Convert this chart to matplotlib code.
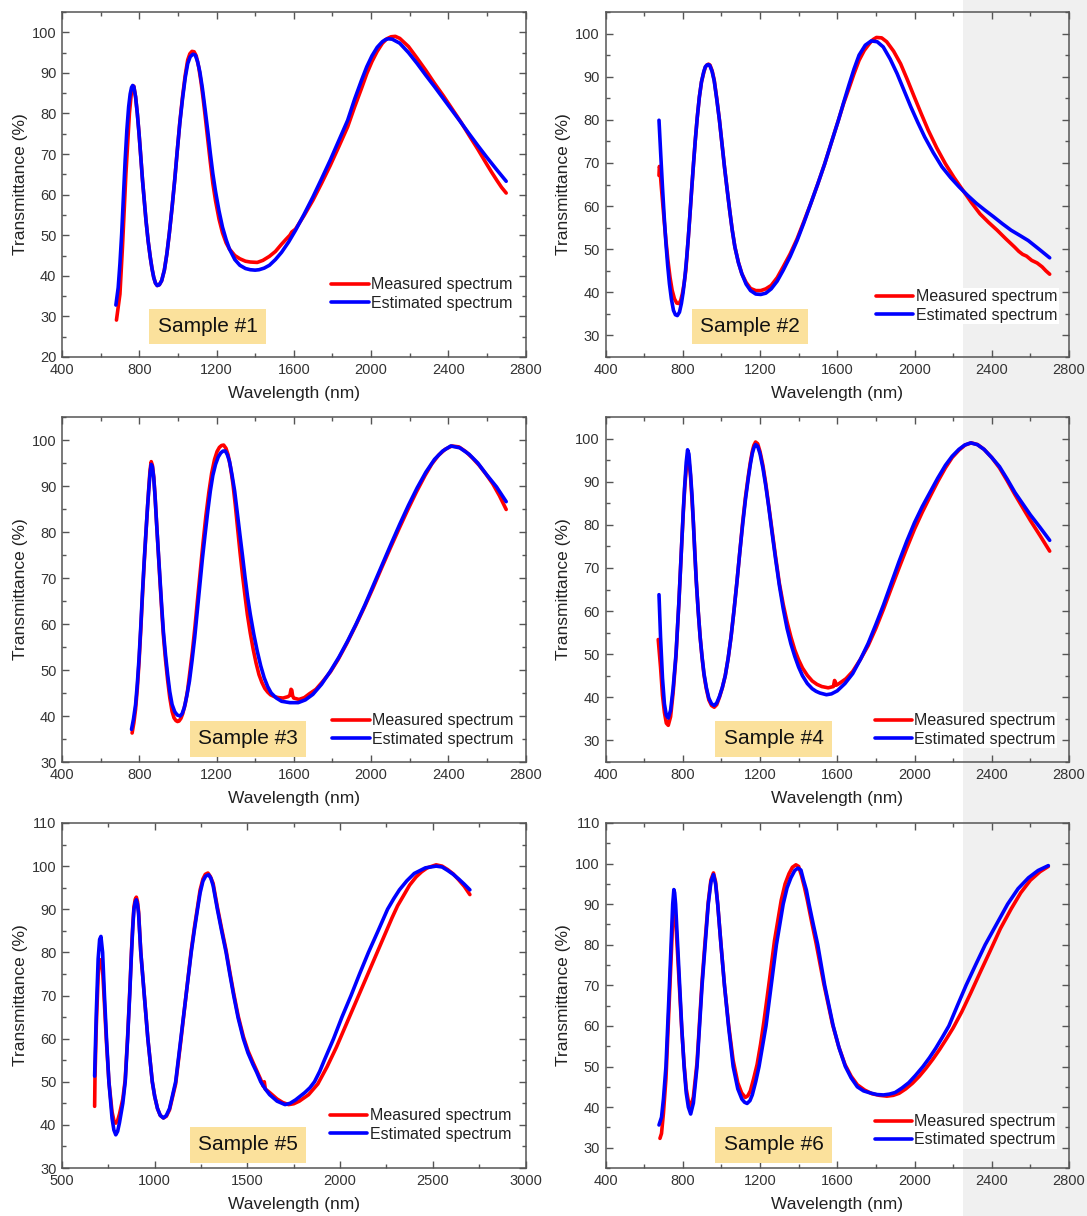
import matplotlib
matplotlib.use('Agg')
import matplotlib.pyplot as plt
from matplotlib.patches import Rectangle
from matplotlib.ticker import MultipleLocator

plt.rcParams['font.family'] = ['Liberation Sans', 'DejaVu Sans']

# ---- data: (wavelength nm, transmittance %) ----
meas1 = [(682, 29.1), (700, 35.5), (713, 47.0), (731, 65.2), (749, 80.0), (758, 84.5), (763, 86.2), (768, 86.8),
         (772, 86.7), (781, 84.1), (790, 80.0), (799, 75.0), (808, 69.3), (817, 63.5), (835, 53.6), (846, 48.6),
         (857, 44.6), (866, 41.8), (875, 39.6), (884, 38.2), (893, 37.6), (904, 37.8), (916, 38.8), (930, 41.4),
         (943, 45.4), (956, 50.6), (970, 56.9), (984, 63.8), (997, 70.9), (1010, 77.8), (1024, 84.1), (1038, 89.4),
         (1051, 93.2), (1062, 94.7), (1073, 95.3), (1084, 95.2), (1095, 94.2), (1108, 91.4), (1120, 87.7),
         (1130, 84.0), (1141, 79.5), (1155, 73.5), (1168, 68.0), (1181, 62.8), (1195, 58.5), (1213, 54.0),
         (1231, 50.6), (1250, 48.1), (1267, 46.6), (1295, 45.0), (1321, 44.2), (1350, 43.6), (1375, 43.4),
         (1411, 43.3), (1440, 43.8), (1474, 44.8), (1505, 46.0), (1537, 47.8), (1560, 49.0), (1580, 50.0),
         (1590, 50.8), (1609, 51.5), (1654, 54.9), (1699, 58.6), (1744, 62.8), (1789, 67.2), (1834, 71.9),
         (1879, 76.7), (1915, 81.6), (1951, 86.2), (1978, 89.8), (2005, 92.8), (2032, 95.3), (2059, 97.3),
         (2082, 98.4), (2104, 98.9), (2126, 99.0), (2149, 98.5), (2194, 96.5), (2239, 93.6), (2284, 90.6),
         (2329, 87.4), (2374, 84.4), (2419, 81.2), (2464, 78.0), (2508, 74.6), (2553, 71.2), (2598, 67.6),
         (2625, 65.5), (2652, 63.5), (2676, 61.8), (2700, 60.4)]
est1 = [(679, 32.8), (691, 37.1), (700, 43.0), (709, 50.3), (718, 59.5), (727, 68.5), (736, 76.0), (745, 81.6),
        (753, 84.8), (760, 86.4), (766, 86.9), (772, 86.6), (781, 84.1), (790, 80.0), (799, 75.0), (808, 69.3),
        (817, 63.5), (835, 53.6), (846, 48.6), (857, 44.6), (866, 41.8), (875, 39.6), (884, 38.2), (893, 37.6),
        (904, 37.8), (916, 38.8), (930, 41.4), (943, 45.4), (956, 50.6), (970, 56.9), (984, 63.8), (997, 70.9),
        (1010, 77.6), (1024, 83.6), (1038, 88.8), (1051, 92.3), (1064, 94.0), (1078, 94.6), (1090, 94.4),
        (1102, 92.8), (1114, 90.2), (1127, 86.2), (1141, 81.0), (1155, 75.6), (1168, 70.2), (1181, 65.2),
        (1195, 60.8), (1213, 56.0), (1231, 52.0), (1250, 48.9), (1267, 46.6), (1295, 44.0), (1321, 42.6),
        (1350, 41.8), (1375, 41.5), (1400, 41.4), (1420, 41.5), (1447, 41.9), (1474, 42.6), (1505, 44.0),
        (1537, 45.8), (1573, 48.3), (1609, 51.2), (1654, 55.2), (1699, 59.4), (1744, 63.9), (1789, 68.5),
        (1834, 73.4), (1879, 78.3), (1915, 83.5), (1951, 88.2), (1978, 91.5), (2005, 94.2), (2032, 96.3),
        (2059, 97.7), (2075, 98.2), (2090, 98.4), (2110, 98.3), (2149, 97.3), (2194, 95.0), (2239, 92.3),
        (2284, 89.4), (2329, 86.6), (2374, 83.7), (2419, 80.8), (2464, 77.9), (2508, 75.0), (2553, 72.1),
        (2598, 69.3), (2650, 66.2), (2700, 63.3)]

meas2 = [(677, 67.1), (679, 69.2), (682, 68.7), (688, 65.0), (695, 61.3), (704, 56.5), (713, 52.0), (723, 47.5),
         (734, 43.5), (745, 40.5), (757, 38.5), (769, 37.5), (781, 37.4), (790, 38.2), (798, 39.7), (807, 42.0),
         (816, 45.1), (829, 52.8), (838, 58.5), (847, 64.4), (856, 70.0), (865, 75.3), (875, 80.5), (886, 85.3),
         (897, 88.8), (909, 91.0), (917, 92.2), (925, 92.7), (933, 92.9), (941, 92.7), (952, 91.4), (963, 89.2),
         (976, 85.0), (990, 79.9), (1003, 74.5), (1016, 69.1), (1030, 63.8), (1043, 59.0), (1056, 54.5),
         (1070, 50.5), (1088, 47.0), (1106, 44.3), (1128, 42.3), (1151, 40.9), (1178, 40.4), (1204, 40.4),
         (1230, 40.8), (1258, 41.6), (1289, 43.4), (1320, 45.9), (1356, 48.9), (1392, 52.4), (1427, 56.4),
         (1463, 60.6), (1499, 65.1), (1535, 69.8), (1570, 74.8), (1606, 79.9), (1633, 83.8), (1660, 87.2),
         (1687, 90.7), (1713, 93.8), (1740, 96.1), (1767, 97.7), (1785, 98.6), (1803, 99.1), (1830, 99.0),
         (1856, 98.1), (1892, 95.9), (1928, 93.0), (1963, 89.3), (1999, 85.3), (2035, 81.4), (2071, 77.6),
         (2115, 73.5), (2160, 69.8), (2205, 66.6), (2250, 63.7), (2295, 60.8), (2339, 58.2), (2384, 56.2),
         (2428, 54.4), (2473, 52.4), (2518, 50.5), (2540, 49.5), (2560, 48.8), (2580, 48.4), (2607, 47.4),
         (2635, 46.8), (2661, 45.9), (2680, 45.0), (2700, 44.2)]
est2 = [(677, 79.9), (686, 72.0), (695, 64.4), (704, 57.5), (713, 51.3), (722, 46.2), (731, 42.0), (741, 38.5),
        (752, 35.8), (762, 34.8), (772, 34.6), (783, 35.4), (793, 37.4), (802, 40.0), (811, 43.5), (820, 47.8),
        (829, 52.8), (838, 58.5), (847, 64.4), (856, 70.0), (865, 75.3), (875, 80.5), (886, 85.3), (897, 88.8),
        (909, 91.2), (917, 92.3), (925, 92.7), (933, 92.8), (940, 92.6), (952, 91.2), (963, 89.0), (976, 84.8),
        (990, 79.9), (1003, 74.5), (1016, 69.1), (1030, 63.8), (1043, 59.0), (1056, 54.5), (1070, 50.5),
        (1088, 46.9), (1106, 44.3), (1128, 41.9), (1151, 40.4), (1178, 39.6), (1204, 39.5), (1230, 39.8),
        (1258, 40.8), (1289, 42.6), (1320, 45.1), (1356, 48.3), (1392, 52.0), (1427, 56.1), (1463, 60.6),
        (1499, 65.1), (1535, 69.8), (1570, 74.8), (1606, 79.9), (1633, 84.0), (1660, 88.0), (1687, 91.8),
        (1713, 95.0), (1745, 97.3), (1776, 98.3), (1807, 98.1), (1838, 96.9), (1874, 94.1), (1910, 90.7),
        (1945, 86.9), (1981, 83.0), (2017, 79.4), (2053, 76.0), (2097, 72.4), (2142, 69.1), (2187, 66.6),
        (2232, 64.4), (2277, 62.4), (2321, 60.6), (2366, 59.0), (2410, 57.5), (2455, 55.9), (2500, 54.4),
        (2545, 53.2), (2589, 52.0), (2645, 50.0), (2700, 48.0)]

meas3 = [(763, 36.3), (772, 38.5), (781, 41.5), (790, 46.0), (799, 51.8), (808, 58.8), (817, 66.5), (826, 73.5),
         (835, 80.0), (843, 85.5), (850, 90.0), (856, 93.5), (862, 95.3), (868, 94.5), (875, 92.0), (882, 87.8),
         (889, 82.5), (898, 76.0), (907, 69.5), (916, 63.3), (925, 57.5), (936, 52.2), (947, 47.8), (958, 44.0),
         (970, 41.0), (980, 39.6), (990, 39.0), (998, 38.8), (1006, 38.9), (1016, 39.5), (1025, 40.5),
         (1038, 42.6), (1050, 45.5), (1062, 49.5), (1075, 54.0), (1088, 59.2), (1100, 64.5), (1115, 71.0),
         (1130, 77.5), (1145, 83.5), (1160, 88.5), (1175, 92.8), (1190, 95.8), (1203, 97.5), (1215, 98.4),
         (1226, 98.8), (1237, 98.9), (1249, 98.2), (1260, 96.8), (1272, 94.2), (1285, 90.5), (1297, 86.0),
         (1310, 80.5), (1322, 75.5), (1335, 70.5), (1348, 66.0), (1360, 62.0), (1375, 58.0), (1390, 54.5),
         (1405, 51.5), (1420, 49.0), (1435, 47.3), (1450, 46.0), (1465, 45.2), (1480, 44.6), (1500, 44.2),
         (1520, 44.0), (1545, 43.9), (1570, 44.2), (1580, 44.5), (1586, 45.8), (1590, 45.6), (1594, 44.4),
         (1600, 43.9), (1627, 43.6), (1655, 44.0), (1680, 44.8), (1715, 45.8), (1750, 47.5), (1790, 49.6),
         (1830, 52.3), (1875, 55.8), (1920, 59.6), (1965, 63.6), (2010, 67.8), (2055, 72.2), (2100, 76.5),
         (2145, 80.7), (2190, 84.8), (2235, 88.7), (2280, 92.3), (2315, 94.8), (2350, 96.7), (2385, 98.0),
         (2419, 98.7), (2455, 98.5), (2490, 97.5), (2525, 96.1), (2560, 94.5), (2595, 92.6), (2630, 90.5),
         (2665, 87.9), (2700, 84.9)]
est3 = [(760, 37.1), (770, 39.3), (781, 42.5), (790, 47.0), (799, 52.6), (808, 59.5), (817, 67.1), (826, 74.0),
        (835, 80.2), (843, 85.5), (850, 89.6), (856, 92.8), (862, 94.7), (868, 94.2), (875, 91.8), (882, 87.6),
        (889, 82.4), (898, 76.2), (907, 70.1), (916, 64.0), (925, 58.4), (936, 53.3), (947, 49.0), (958, 45.3),
        (970, 42.5), (984, 40.9), (997, 40.2), (1012, 40.0), (1022, 40.5), (1033, 41.8), (1046, 44.3),
        (1060, 47.6), (1073, 51.9), (1087, 57.0), (1100, 62.6), (1114, 68.6), (1127, 74.2), (1141, 79.5),
        (1155, 84.6), (1168, 88.9), (1181, 92.3), (1195, 94.7), (1209, 96.3), (1222, 97.2), (1234, 97.6),
        (1246, 97.6), (1256, 96.8), (1267, 95.4), (1280, 92.5), (1294, 88.9), (1307, 84.4), (1321, 79.5),
        (1335, 74.7), (1348, 70.1), (1361, 65.9), (1375, 62.1), (1393, 57.8), (1411, 54.1), (1429, 50.9),
        (1447, 48.3), (1465, 46.4), (1483, 45.0), (1510, 43.9), (1537, 43.2), (1580, 42.9), (1623, 42.9),
        (1660, 43.5), (1699, 44.7), (1744, 46.9), (1789, 49.7), (1834, 52.8), (1879, 56.3), (1924, 60.1),
        (1969, 64.2), (2014, 68.6), (2059, 73.0), (2104, 77.4), (2149, 81.7), (2194, 85.8), (2239, 89.6),
        (2284, 93.0), (2329, 95.8), (2371, 97.6), (2413, 98.7), (2460, 98.3), (2508, 96.9), (2553, 95.0),
        (2598, 92.5), (2650, 89.8), (2700, 86.6)]

meas4 = [(673, 53.4), (685, 47.0), (695, 40.5), (705, 36.5), (715, 34.0), (725, 33.5), (737, 35.5), (750, 41.0),
         (765, 49.5), (780, 62.0), (795, 76.0), (803, 83.0), (810, 88.5), (818, 93.0), (825, 95.5), (832, 94.8),
         (840, 91.5), (855, 80.5), (870, 67.0), (880, 60.0), (890, 54.0), (900, 49.2), (910, 45.2), (922, 42.0),
         (935, 39.4), (949, 38.1), (963, 37.7), (976, 38.3), (990, 40.0), (1005, 42.2), (1020, 45.0), (1035, 49.0),
         (1050, 54.0), (1065, 60.0), (1080, 66.5), (1095, 73.5), (1110, 80.5), (1125, 86.5), (1140, 91.5),
         (1150, 94.5), (1160, 97.0), (1168, 98.4), (1177, 99.2), (1188, 98.8), (1200, 97.0), (1215, 93.8),
         (1230, 89.5), (1245, 84.5), (1260, 79.5), (1280, 72.8), (1300, 66.5), (1320, 61.6), (1340, 57.5),
         (1360, 54.0), (1380, 51.0), (1400, 48.7), (1420, 46.8), (1445, 45.1), (1470, 43.8), (1495, 43.0),
         (1520, 42.5), (1553, 42.2), (1580, 42.5), (1586, 43.9), (1590, 43.6), (1594, 42.8), (1610, 43.2),
         (1645, 44.3), (1680, 46.0), (1720, 48.8), (1760, 52.0), (1800, 56.0), (1840, 60.5), (1880, 65.3),
         (1920, 70.0), (1960, 74.6), (2000, 79.0), (2040, 82.9), (2080, 86.5), (2120, 90.0), (2160, 93.2),
         (2195, 95.6), (2230, 97.3), (2262, 98.5), (2294, 99.0), (2327, 98.6), (2360, 97.5), (2400, 95.6),
         (2440, 93.2), (2480, 90.2), (2520, 87.0), (2560, 84.0), (2600, 81.0), (2650, 77.5), (2700, 73.9)]
est4 = [(677, 63.8), (685, 54.0), (695, 44.5), (705, 38.5), (715, 35.8), (725, 35.2), (737, 37.0), (750, 42.0),
        (765, 50.0), (780, 62.0), (795, 76.0), (803, 83.5), (810, 89.0), (818, 94.5), (825, 97.4), (832, 96.4),
        (840, 92.0), (848, 86.8), (855, 80.5), (862, 73.8), (870, 67.0), (880, 60.0), (890, 54.0), (900, 49.4),
        (910, 45.5), (922, 42.3), (935, 39.8), (949, 38.5), (963, 38.1), (976, 38.7), (990, 40.2), (1005, 42.3),
        (1020, 45.0), (1035, 49.0), (1050, 54.0), (1065, 60.0), (1080, 66.5), (1095, 73.5), (1110, 80.0),
        (1125, 86.0), (1140, 91.0), (1150, 94.0), (1160, 96.5), (1168, 97.8), (1177, 98.6), (1188, 98.2),
        (1200, 96.5), (1215, 93.2), (1230, 89.0), (1245, 84.2), (1260, 79.0), (1280, 72.3), (1300, 66.0),
        (1320, 60.6), (1340, 56.0), (1360, 52.4), (1380, 49.5), (1400, 47.0), (1420, 45.0), (1445, 43.2),
        (1470, 42.0), (1490, 41.4), (1510, 41.0), (1544, 40.6), (1570, 40.8), (1600, 41.5), (1640, 43.2),
        (1680, 45.5), (1720, 48.8), (1760, 52.5), (1800, 56.9), (1840, 61.5), (1880, 66.5), (1920, 71.5),
        (1960, 76.2), (2000, 80.5), (2040, 84.2), (2080, 87.5), (2120, 90.8), (2160, 93.8), (2195, 95.9),
        (2230, 97.5), (2260, 98.5), (2291, 99.0), (2325, 98.6), (2360, 97.5), (2400, 95.6), (2440, 93.5),
        (2480, 90.6), (2520, 87.5), (2560, 84.9), (2600, 82.3), (2650, 79.4), (2700, 76.4)]

meas5 = [(676, 44.3), (678, 51.3), (685, 63.0), (695, 74.5), (703, 78.0), (710, 78.3), (719, 76.0), (729, 68.0),
         (740, 59.0), (753, 50.0), (770, 43.0), (780, 41.0), (790, 40.4), (800, 41.0), (810, 42.5), (828, 46.0),
         (841, 50.5), (854, 60.5), (865, 70.5), (875, 80.5), (882, 86.5), (888, 90.5), (895, 92.3), (901, 92.8),
         (907, 91.8), (913, 89.5), (925, 80.0), (944, 70.0), (963, 60.0), (987, 50.0), (1000, 46.6), (1015, 43.8),
         (1030, 42.2), (1047, 41.6), (1063, 42.0), (1080, 43.5), (1113, 49.5), (1141, 59.5), (1169, 70.0),
         (1197, 80.5), (1215, 86.0), (1231, 90.5), (1245, 94.5), (1260, 97.0), (1273, 98.1), (1287, 98.4),
         (1300, 97.6), (1315, 96.0), (1338, 90.5), (1360, 85.7), (1385, 80.5), (1405, 75.5), (1426, 70.5),
         (1450, 65.3), (1478, 60.5), (1503, 57.2), (1530, 54.5), (1550, 52.6), (1572, 50.5), (1585, 49.0),
         (1591, 50.0), (1597, 48.3), (1620, 47.5), (1660, 46.0), (1690, 45.2), (1722, 44.7), (1750, 44.9),
         (1780, 45.5), (1830, 47.0), (1880, 49.5), (1930, 53.5), (1980, 58.0), (2030, 63.0), (2080, 68.0),
         (2130, 73.0), (2180, 78.0), (2230, 83.0), (2280, 88.0), (2310, 90.8), (2340, 93.0), (2375, 95.6),
         (2410, 97.5), (2440, 98.7), (2470, 99.6), (2518, 100.3), (2550, 100.0), (2580, 99.2), (2610, 98.2),
         (2640, 96.8), (2670, 95.3), (2700, 93.4)]
est5 = [(676, 51.3), (685, 66.0), (695, 78.5), (703, 83.0), (710, 83.7), (719, 80.0), (729, 70.0), (740, 60.0),
        (753, 50.0), (770, 41.5), (780, 38.8), (790, 37.7), (800, 38.5), (810, 40.5), (828, 45.0), (841, 50.0),
        (854, 60.0), (865, 70.0), (875, 80.0), (882, 86.0), (888, 90.0), (895, 91.7), (901, 92.2), (907, 91.2),
        (913, 89.0), (925, 80.0), (944, 70.0), (963, 60.0), (987, 50.0), (1000, 46.6), (1015, 43.8), (1030, 42.2),
        (1047, 41.6), (1063, 42.2), (1080, 43.8), (1113, 50.0), (1141, 60.0), (1169, 70.0), (1197, 80.0),
        (1215, 85.5), (1231, 90.0), (1245, 93.8), (1260, 96.5), (1275, 97.7), (1291, 98.0), (1303, 97.2),
        (1315, 95.5), (1338, 90.0), (1360, 85.2), (1385, 80.0), (1405, 75.0), (1426, 70.0), (1450, 64.8),
        (1478, 60.0), (1503, 56.7), (1530, 54.0), (1550, 52.2), (1572, 50.0), (1595, 48.4), (1620, 47.0),
        (1660, 45.5), (1703, 44.7), (1730, 45.0), (1760, 45.8), (1810, 47.5), (1837, 48.6), (1862, 50.0),
        (1890, 52.4), (1915, 55.0), (1965, 60.0), (2010, 65.0), (2059, 70.0), (2105, 75.0), (2153, 80.0),
        (2205, 85.0), (2256, 90.0), (2290, 92.5), (2320, 94.5), (2360, 96.6), (2400, 98.3), (2460, 99.6),
        (2518, 100.0), (2550, 99.8), (2580, 99.0), (2610, 98.1), (2640, 97.0), (2670, 95.8), (2700, 94.5)]

meas6 = [(682, 32.3), (690, 33.5), (700, 38.5), (713, 47.0), (722, 57.0), (731, 67.0), (740, 77.0), (748, 86.0),
         (754, 89.4), (758, 88.8), (763, 86.5), (773, 78.0), (784, 68.5), (795, 59.0), (807, 50.5), (818, 44.5),
         (829, 41.5), (841, 40.1), (855, 42.5), (874, 51.0), (887, 61.0), (900, 71.0), (916, 81.0), (932, 90.5),
         (946, 96.0), (959, 97.7), (970, 95.5), (981, 90.0), (998, 80.0), (1016, 70.0), (1038, 60.0), (1061, 51.5),
         (1085, 46.0), (1105, 43.5), (1124, 42.4), (1137, 42.8), (1150, 44.0), (1167, 47.0), (1185, 50.5),
         (1203, 55.5), (1220, 61.0), (1248, 71.0), (1275, 81.0), (1310, 91.0), (1330, 95.0), (1350, 97.5),
         (1368, 99.1), (1386, 99.7), (1400, 99.3), (1415, 97.0), (1430, 94.2), (1445, 91.0), (1468, 85.5),
         (1490, 80.5), (1530, 70.5), (1575, 60.5), (1607, 55.0), (1640, 50.5), (1672, 47.6), (1704, 45.5),
         (1742, 44.2), (1780, 43.3), (1818, 42.9), (1857, 42.7), (1890, 42.9), (1920, 43.4), (1955, 44.5),
         (1990, 45.9), (2025, 47.6), (2060, 49.6), (2095, 51.8), (2130, 54.2), (2165, 56.8), (2200, 59.5),
         (2245, 63.5), (2290, 68.0), (2340, 73.2), (2390, 78.3), (2445, 84.0), (2500, 88.8), (2550, 92.8),
         (2600, 95.9), (2650, 98.0), (2693, 99.3)]
est6 = [(677, 35.6), (690, 37.5), (700, 42.0), (713, 50.0), (722, 60.0), (731, 70.0), (740, 80.5), (748, 90.0),
        (754, 93.6), (758, 92.8), (763, 90.0), (773, 80.5), (784, 70.0), (795, 59.5), (807, 50.0), (818, 43.5),
        (829, 40.0), (841, 38.3), (855, 41.0), (874, 50.0), (887, 60.0), (900, 70.0), (916, 80.0), (932, 90.0),
        (946, 95.5), (959, 97.3), (970, 95.0), (981, 90.0), (998, 80.0), (1016, 70.0), (1038, 59.5), (1061, 50.0),
        (1085, 44.5), (1106, 42.0), (1120, 41.2), (1133, 40.9), (1148, 41.6), (1160, 43.0), (1178, 46.3),
        (1195, 50.0), (1213, 55.0), (1231, 60.0), (1258, 70.0), (1285, 80.0), (1320, 90.0), (1340, 94.0),
        (1360, 96.5), (1380, 98.3), (1397, 98.9), (1412, 98.4), (1425, 96.0), (1440, 93.5), (1454, 90.0),
        (1476, 85.0), (1499, 80.0), (1535, 70.0), (1579, 60.0), (1610, 54.5), (1642, 50.0), (1672, 47.2),
        (1704, 45.0), (1736, 44.0), (1770, 43.5), (1805, 43.1), (1839, 43.0), (1870, 43.2), (1900, 43.6),
        (1935, 44.7), (1970, 46.0), (2005, 47.8), (2044, 50.0), (2078, 52.2), (2110, 54.5), (2144, 57.2),
        (2178, 60.0), (2222, 65.0), (2267, 70.0), (2316, 75.0), (2366, 80.0), (2424, 85.0), (2482, 90.0),
        (2536, 93.8), (2590, 96.5), (2640, 98.3), (2693, 99.5)]

sample_names = ['Sample #1', 'Sample #2', 'Sample #3', 'Sample #4', 'Sample #5', 'Sample #6']
measured = [meas1, meas2, meas3, meas4, meas5, meas6]
estimated = [est1, est2, est3, est4, est5, est6]

# ---- per-panel axis settings ----
xlims = [(400, 2800)] * 4 + [(500, 3000), (400, 2800)]
xmajor = [400, 400, 400, 400, 500, 400]
ylims = [(20, 105), (25, 105), (30, 105), (25, 105), (30, 110), (25, 110)]
tag_pos = [(0.314, 0.088), (0.312, 0.088), (0.401, 0.067), (0.363, 0.067), (0.401, 0.067), (0.363, 0.067)]
leg_pos = [(0.975, 0.13), (0.978, 0.095), (0.978, 0.04), (0.975, 0.04), (0.972, 0.072), (0.975, 0.055)]

W, H = 1087, 1216
fig = plt.figure(figsize=(W / 100, H / 100), dpi=100)
fig.patches.append(Rectangle((963 / W, 0), 1 - 963 / W, 1, transform=fig.transFigure,
                             facecolor='#f0f0f0', edgecolor='none', zorder=-10))

lefts = [62 / W, 605.5 / W]
aw = 463.5 / W
bottoms = [1 - 357 / H, 1 - 762 / H, 1 - 1168 / H]
ah = 345 / H

for i in range(6):
    r, c = divmod(i, 2)
    ax = fig.add_axes([lefts[c], bottoms[r], aw, ah])
    ax.set_facecolor('none')
    mx, my = zip(*measured[i])
    ex, ey = zip(*estimated[i])
    ax.plot(mx, my, color='#ff0000', lw=2.6, label='Measured spectrum',
            solid_capstyle='round', solid_joinstyle='round')
    ax.plot(ex, ey, color='#0000ff', lw=2.6, label='Estimated spectrum',
            solid_capstyle='round', solid_joinstyle='round')
    ax.set_xlim(*xlims[i])
    ax.set_ylim(*ylims[i])
    ax.xaxis.set_major_locator(MultipleLocator(xmajor[i]))
    ax.xaxis.set_minor_locator(MultipleLocator(xmajor[i] / 2))
    ax.yaxis.set_major_locator(MultipleLocator(10))
    ax.yaxis.set_minor_locator(MultipleLocator(5))
    ax.tick_params(which='both', direction='in', top=True, right=True, color='#555555',
                   labelsize=10.5, labelcolor='#333333', width=1.0)
    ax.tick_params(which='major', length=5, pad=4)
    ax.tick_params(which='minor', length=3)
    for s in ax.spines.values():
        s.set_color('#555555')
        s.set_linewidth(1.1)
    ax.set_xlabel('Wavelength (nm)', fontsize=12.5, color='#222222', labelpad=7)
    ax.set_ylabel('Transmittance (%)', fontsize=12.5, color='#222222', labelpad=3)
    leg = ax.legend(loc='lower right', bbox_to_anchor=leg_pos[i], fontsize=11.5, frameon=True,
                    facecolor='white', edgecolor='none', framealpha=1, fancybox=False,
                    borderpad=0.1, borderaxespad=0, handlelength=2.35, handletextpad=0.15,
                    labelspacing=0.2)
    for t in leg.get_texts():
        t.set_color('#222222')
    ax.text(tag_pos[i][0], tag_pos[i][1], sample_names[i], transform=ax.transAxes,
            ha='center', va='center', fontsize=15, color='#111111',
            bbox=dict(boxstyle='square,pad=0.4', facecolor='#fbe19c', edgecolor='none'))

fig.savefig('out.png', dpi=100)
